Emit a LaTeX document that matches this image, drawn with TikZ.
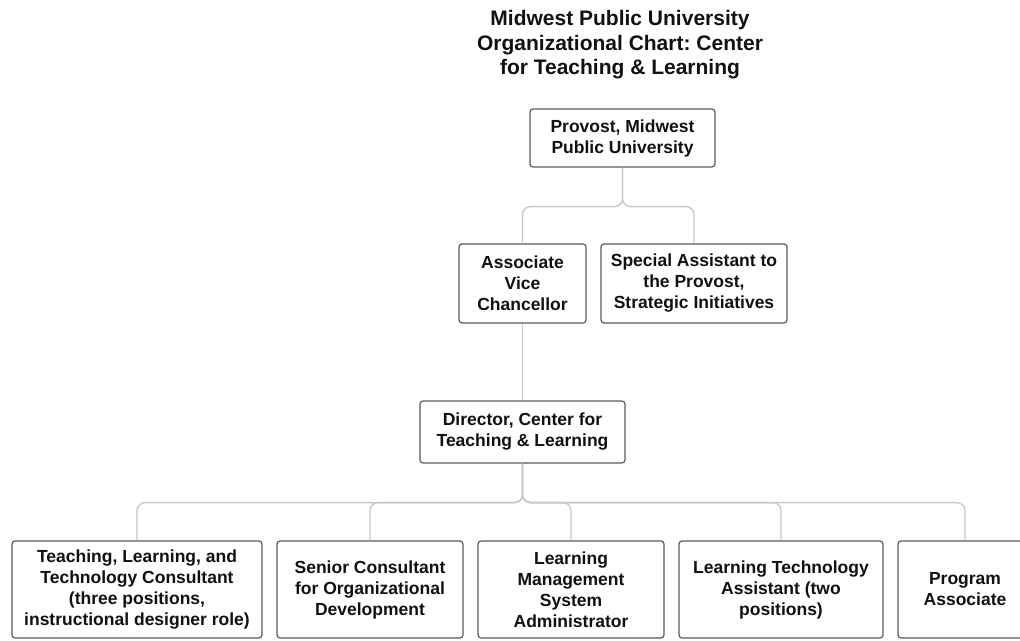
\documentclass[tikz,border=0pt]{standalone}
\usepackage{fontspec}
\setmainfont{Liberation Sans}
\usepackage{tikz}
\usetikzlibrary{positioning, calc}
\frenchspacing
\definecolor{BoxBorder}{HTML}{5A5A5A}
\definecolor{LinkGray}{HTML}{C8C8C8}
\definecolor{TextBlack}{HTML}{111111}
\tikzset{
  titletext/.style={font=\fontsize{21}{24.5}\selectfont\bfseries, text=TextBlack, align=center},
  orgbox/.style={rectangle, rounded corners=3pt, draw=BoxBorder, line width=1.2pt, fill=white, text=TextBlack, font=\fontsize{17.5}{21}\selectfont\bfseries, align=center, inner sep=0pt},
  staffbox/.style={orgbox, minimum height=97pt},
  linkline/.style={draw=LinkGray, line width=1.4pt, rounded corners=8pt}
}

\begin{document}
\begin{tikzpicture}[x=1pt, y=-1pt]
  \useasboundingbox (0,0) rectangle (1020,640);

  % Title
  \node[titletext] (title) at (620,45) {Midwest Public University\\Organizational Chart: Center\\for Teaching \& Learning};

  % Top levels
  \node[orgbox, minimum width=185pt, minimum height=58pt] (provost) at (622.5,138) {Provost, Midwest\\Public University};
  \node[orgbox, minimum width=127pt, minimum height=79pt] (avc) at (522.5,283.5) {Associate\\Vice\\Chancellor};
  \node[orgbox, minimum width=186pt, minimum height=79pt] (special) at (694,283.5) {Special Assistant to\\the Provost,\\Strategic Initiatives};
  \node[orgbox, minimum width=205pt, minimum height=62pt] (director) at (522.5,432) {Director, Center for\\Teaching \& Learning};

  % Staff
  \node[staffbox, minimum width=250pt] (tlt) at (137,589.5) {Teaching, Learning, and\\Technology Consultant\\(three positions,\\instructional designer role)};
  \node[staffbox, minimum width=186pt] (senior) at (370,589.5) {Senior Consultant\\for Organizational\\Development};
  \node[staffbox, minimum width=186pt] (lms) at (571,589.5) {Learning\\Management\\System\\Administrator};
  \node[staffbox, minimum width=204pt] (lta) at (781,589.5) {Learning Technology\\Assistant (two\\positions)};
  \node[staffbox, minimum width=134pt] (program) at (965,589.5) {Program\\Associate};

  % Connectors
  \coordinate (provostbus) at ($(provost.south)+(0,39)$);
  \draw[linkline] (provost.south) -- (provostbus) -| (avc.north);
  \draw[linkline] (provost.south) -- (provostbus) -| (special.north);
  \draw[linkline] (avc.south) -- (director.north);

  \coordinate (directorbus) at ($(director.south)+(0,39)$);
  \foreach \staff in {tlt, senior, lms, lta, program} {
    \draw[linkline] (director.south) -- (directorbus) -| (\staff.north);
  }
\end{tikzpicture}
\end{document}
